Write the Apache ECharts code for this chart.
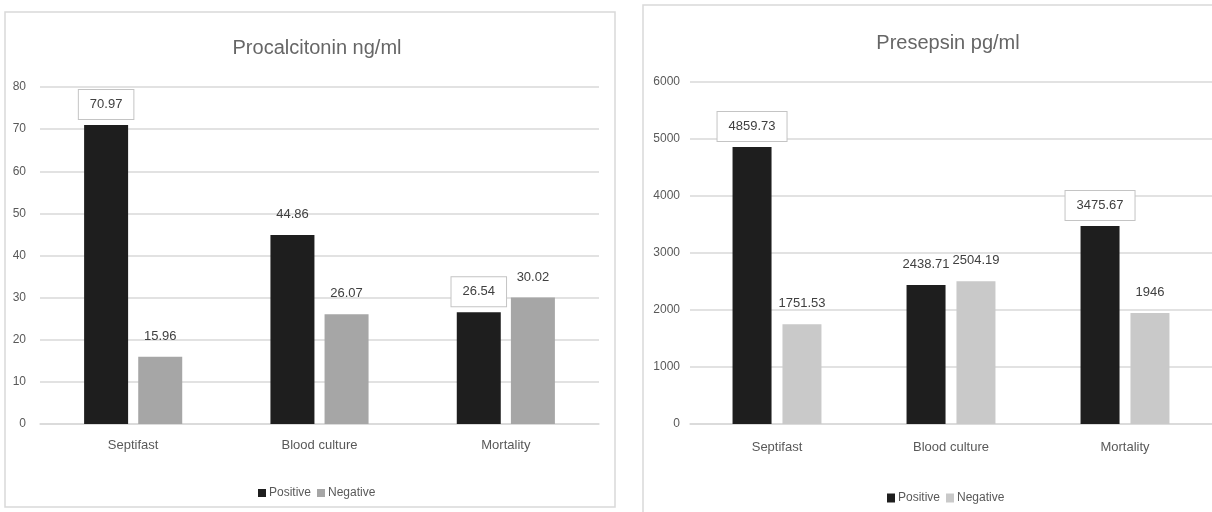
<!DOCTYPE html>
<html>
<head>
<meta charset="utf-8">
<script src="https://cdn.jsdelivr.net/npm/echarts@6/dist/echarts.min.js"></script>
<style>
  html, body { margin: 0; padding: 0; background: #fff; }
  #chart { width: 1212px; height: 512px; }
</style>
</head>
<body>
<div id="chart"></div>
<script>
// Biomarker levels by outcome group
const categories = ['Septifast', 'Blood culture', 'Mortality'];
const seriesNames = ['Positive', 'Negative'];

// Procalcitonin (ng/ml)
const pctPositive = [70.97, 44.86, 26.54];
const pctNegative = [15.96, 26.07, 30.02];

// Presepsin (pg/ml)
const prsPositive = [4859.73, 2438.71, 3475.67];
const prsNegative = [1751.53, 2504.19, 1946];

// Axis ticks
const pctTicks = { min: 0, max: 80, step: 10 };
const prsTicks = { min: 0, max: 6000, step: 1000 };

// Which "Positive" labels carry a frame
const framedPositive = [true, false, true];

const FONT = "'Liberation Sans', Arial, sans-serif";
const TEXT = '#595959';
const GRID = '#d9d9d9';
const DARK = '#1e1e1e';
const GREY_L = '#a6a6a6';
const GREY_R = '#c9c9c9';

const frame = { borderColor: '#c4c4c4', borderWidth: 1, backgroundColor: '#fff' };

function withFrames(values) {
  return values.map((v, i) => framedPositive[i] ? { value: v, label: frame } : v);
}

const barLabel = {
  show: true,
  position: 'top',
  distance: 6,
  padding: [8, 11],
  fontFamily: FONT,
  fontSize: 13,
  color: '#404040'
};

function valueAxis(idx, ticks, margin) {
  return {
    type: 'value',
    gridIndex: idx,
    min: ticks.min,
    max: ticks.max,
    interval: ticks.step,
    axisLine: { show: false },
    axisTick: { show: false },
    axisLabel: { color: TEXT, fontFamily: FONT, fontSize: 12, margin: margin,
                 formatter: v => String(v) },
    splitLine: { lineStyle: { color: GRID, width: 1.5 } }
  };
}

function categoryAxis(idx, margin) {
  return {
    type: 'category',
    gridIndex: idx,
    data: categories,
    axisTick: { show: false },
    axisLine: { lineStyle: { color: GRID, width: 1.5 } },
    axisLabel: { color: TEXT, fontFamily: FONT, fontSize: 13, margin: margin }
  };
}

const chart = echarts.init(document.getElementById('chart'), null, { renderer: 'canvas' });

chart.setOption({
  animation: false,
  backgroundColor: '#fff',
  graphic: [
    { type: 'rect', shape: { x: 5, y: 12, width: 610, height: 495 },
      style: { fill: 'none', stroke: GRID, lineWidth: 1.5 }, z: -1 },
    { type: 'rect', shape: { x: 643, y: 5, width: 600, height: 530 },
      style: { fill: 'none', stroke: GRID, lineWidth: 1.5 }, z: -1 }
  ],
  title: [
    { text: 'Procalcitonin ng/ml', left: 312, top: 33, textAlign: 'center',
      textStyle: { fontFamily: FONT, fontSize: 20, fontWeight: 'normal', color: '#666' } },
    { text: 'Presepsin pg/ml', left: 943, top: 28, textAlign: 'center',
      textStyle: { fontFamily: FONT, fontSize: 20, fontWeight: 'normal', color: '#666' } }
  ],
  legend: [
    { left: 253, top: 482, icon: 'rect', itemWidth: 8, itemHeight: 8, itemGap: 6,
      textStyle: { fontFamily: FONT, fontSize: 12, color: TEXT, padding: [0, 0, 0, -2] },
      data: [{ name: seriesNames[0], itemStyle: { color: DARK } },
             { name: seriesNames[1], itemStyle: { color: GREY_L } }] },
    { left: 882, top: 487, icon: 'rect', itemWidth: 8, itemHeight: 9, itemGap: 6,
      textStyle: { fontFamily: FONT, fontSize: 12, color: TEXT, padding: [0, 0, 0, -2] },
      data: [{ name: seriesNames[0], itemStyle: { color: DARK } },
             { name: seriesNames[1], itemStyle: { color: GREY_R } }] }
  ],
  grid: [
    { left: 40, top: 87, width: 559, height: 337 },
    { left: 690, top: 82, width: 527, height: 342 }
  ],
  xAxis: [categoryAxis(0, 15), categoryAxis(1, 17)],
  yAxis: [valueAxis(0, pctTicks, 14), valueAxis(1, prsTicks, 10)],
  series: [
    { name: seriesNames[0], type: 'bar', xAxisIndex: 0, yAxisIndex: 0,
      barWidth: 44, itemStyle: { color: DARK }, label: barLabel,
      data: withFrames(pctPositive) },
    { name: seriesNames[1], type: 'bar', xAxisIndex: 0, yAxisIndex: 0,
      barWidth: 44, barGap: '23%', itemStyle: { color: GREY_L }, label: barLabel,
      data: pctNegative },
    { name: seriesNames[0], type: 'bar', xAxisIndex: 1, yAxisIndex: 1,
      barWidth: 39, itemStyle: { color: DARK }, label: barLabel,
      data: withFrames(prsPositive) },
    { name: seriesNames[1], type: 'bar', xAxisIndex: 1, yAxisIndex: 1,
      barWidth: 39, barGap: '28%', itemStyle: { color: GREY_R }, label: barLabel,
      data: prsNegative }
  ]
});
</script>
</body>
</html>
